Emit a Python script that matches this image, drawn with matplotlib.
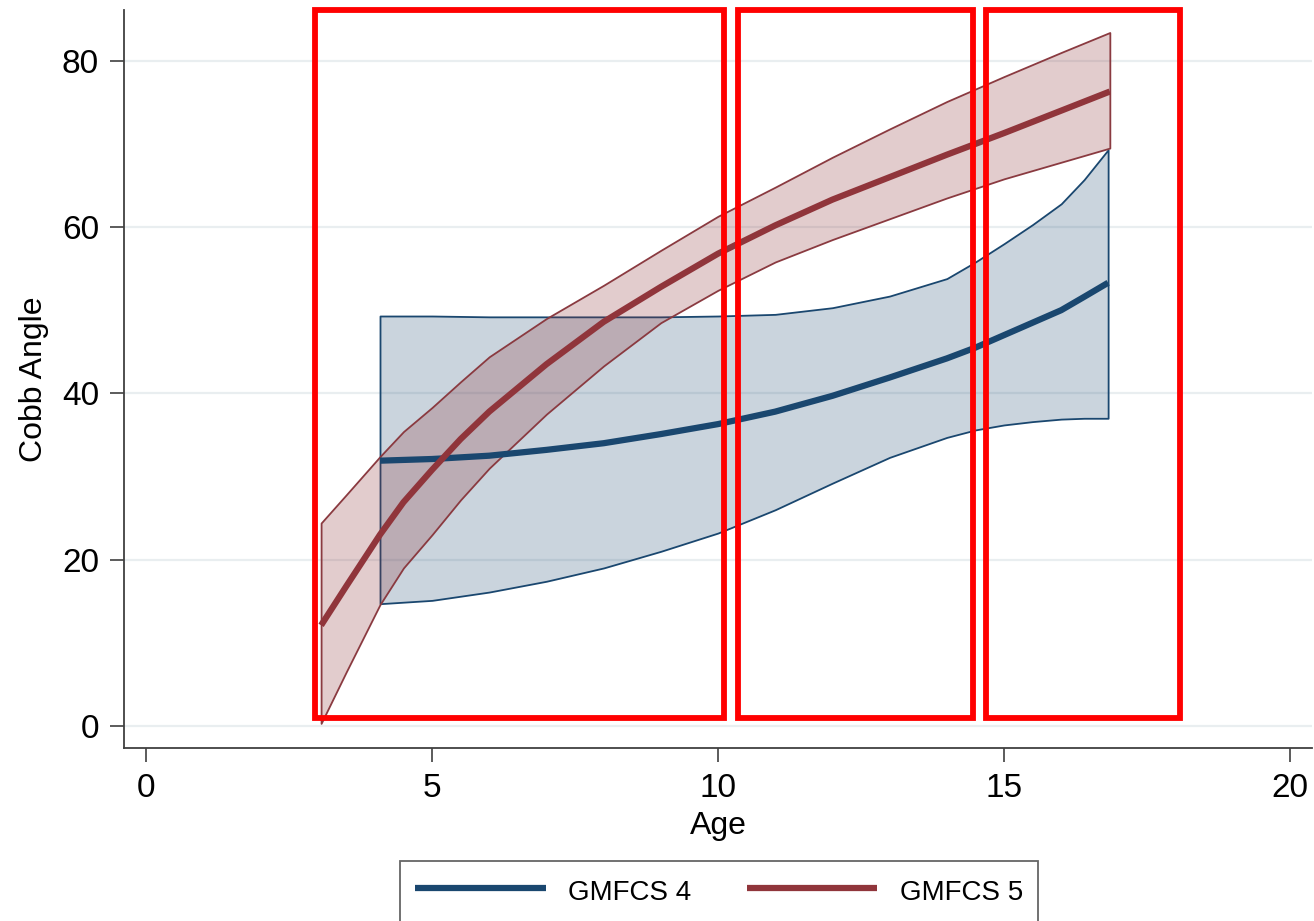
# Cobb angle by age for GMFCS 4 and GMFCS 5, fitted lines with confidence bands.
import numpy as np
import matplotlib.pyplot as plt
from matplotlib.patches import Rectangle

plt.rcParams['font.family'] = ['Liberation Sans', 'DejaVu Sans']

# GMFCS 5 (red)
age5 = [3.06, 3.5, 4.09, 4.5, 5, 5.5, 6, 7, 8, 9, 10, 11, 12, 13, 14, 15, 16, 16.85]
fit5 = [12.1, 16.8, 23.0, 26.9, 30.8, 34.5, 37.8, 43.5, 48.6, 52.8, 56.8, 60.2, 63.3, 66.0, 68.7, 71.3, 74.0, 76.3]
hi5 = [24.4, 27.8, 32.4, 35.4, 38.3, 41.4, 44.4, 49.0, 53.0, 57.2, 61.3, 64.8, 68.4, 71.8, 75.1, 78.1, 81.0, 83.4]
lo5 = [0.3, 6.5, 14.6, 19.0, 23.0, 27.2, 31.0, 37.5, 43.3, 48.5, 52.4, 55.8, 58.5, 61.0, 63.5, 65.8, 67.8, 69.5]

# GMFCS 4 (blue)
age4 = [4.09, 5, 6, 7, 8, 9, 10, 11, 12, 13, 14, 14.5, 15, 15.5, 16, 16.4, 16.82]
fit4 = [31.9, 32.1, 32.5, 33.2, 34.0, 35.1, 36.3, 37.8, 39.7, 41.9, 44.2, 45.5, 47.0, 48.5, 50.0, 51.6, 53.3]
hi4 = [49.3, 49.3, 49.2, 49.2, 49.2, 49.2, 49.3, 49.5, 50.3, 51.7, 53.8, 55.8, 58.0, 60.3, 62.8, 65.7, 69.3]
lo4 = [14.7, 15.1, 16.1, 17.4, 19.0, 21.0, 23.2, 26.0, 29.2, 32.3, 34.7, 35.6, 36.2, 36.6, 36.9, 37.0, 37.0]

# red highlight boxes drawn over the chart (age ranges)
box_left = [2.95, 10.35, 14.68]
box_right = [10.11, 14.45, 18.07]
box_bottom = 0.96
box_top = 86.1

yticks = [0, 20, 40, 60, 80]
xticks = [0, 5, 10, 15, 20]

navy = '#1a476f'
maroon = '#90353b'

fig = plt.figure(figsize=(13.14, 9.21), dpi=100)
ax = fig.add_axes([0.0944, 0.1879, 0.9041, 0.8012])

for y in yticks:
    ax.axhline(y, color='#e9eef0', lw=1.6, zorder=0)

ax.fill_between(age4, lo4, hi4, facecolor=(0.10, 0.28, 0.44, 0.23),
                edgecolor=navy, lw=1.3, zorder=1)
ax.fill_between(age5, lo5, hi5, facecolor=(0.56, 0.21, 0.23, 0.25),
                edgecolor='#8a3a40', lw=1.3, zorder=2)
ax.plot(age4, fit4, color=navy, lw=4.5, label='GMFCS 4', zorder=3,
        solid_capstyle='butt')
ax.plot(age5, fit5, color=maroon, lw=4.5, label='GMFCS 5', zorder=4,
        solid_capstyle='butt')

for l, r in zip(box_left, box_right):
    ax.add_patch(Rectangle((l, box_bottom), r - l, box_top - box_bottom,
                           fill=False, edgecolor='#ff0000', lw=4.2,
                           clip_on=False, zorder=10))

ax.set_xlim(-0.385, 20.385)
ax.set_ylim(-2.65, 86.1)
ax.set_xticks(xticks)
ax.set_yticks(yticks)
ax.tick_params(labelsize=24, length=10, width=1.2, color='#404040')
ax.tick_params(axis='y', pad=8)
ax.tick_params(axis='x', pad=8)
for s in ['top', 'right']:
    ax.spines[s].set_visible(False)
for s in ['left', 'bottom']:
    ax.spines[s].set_color('#404040')
    ax.spines[s].set_linewidth(1.3)

ax.set_xlabel('Age', fontsize=23, labelpad=5)
ax.set_ylabel('Cobb Angle', fontsize=23, labelpad=9)

# legend box runs off the bottom edge, as in the original
leg = fig.legend(loc='upper left', bbox_to_anchor=(400 / 1314, 1 - 861 / 921),
                 ncol=2, fontsize=20, handlelength=4.7, handletextpad=0.8,
                 handleheight=1.25, columnspacing=2.0, borderpad=0.55,
                 borderaxespad=0, fancybox=False, frameon=True,
                 edgecolor='#404040')
leg.get_frame().set_linewidth(1.3)

fig.savefig('out.png', dpi=100)
